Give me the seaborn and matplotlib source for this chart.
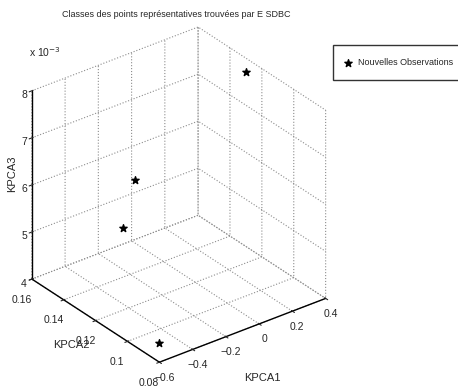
import numpy as np
import pandas as pd
import matplotlib
matplotlib.use("Agg")
import matplotlib.pyplot as plt
import seaborn as sns

# points (KPCA3 in raw units, shown as x 10^-3)
kpca1 = [0.34, -0.40, -0.40, -0.49]
kpca2 = [0.124, 0.116, 0.1235, 0.092]
kpca3 = [0.00792, 0.00681, 0.00561, 0.00400]

x_ticks = [-0.6, -0.4, -0.2, 0, 0.2, 0.4]
y_ticks = [0.08, 0.1, 0.12, 0.14, 0.16]
z_ticks = [4, 5, 6, 7, 8]

sns.set_style("white")
plt.rcParams["font.family"] = ["Liberation Sans", "DejaVu Sans"]
plt.rcParams["font.size"] = 7.5

df = pd.DataFrame({"KPCA1": kpca1, "KPCA2": kpca2, "KPCA3": np.array(kpca3) * 1e3})

fig = plt.figure(figsize=(4.58, 3.87), dpi=100)
ax = fig.add_axes([0.0, 0.02, 0.76, 0.93], projection="3d")
ax.set_proj_type("ortho")
ax.view_init(elev=30, azim=-127.5)
ax.set_box_aspect((4, 4, 4.15), zoom=1.025)

ax.scatter(df["KPCA1"], df["KPCA2"], df["KPCA3"], marker="*", s=30,
           color="black", depthshade=False, label="Nouvelles Observations")

ax.set_xlim(-0.6, 0.4)
ax.set_ylim(0.08, 0.16)
ax.set_zlim(4, 8)
ax.set_xticks(x_ticks)
ax.set_yticks(y_ticks)
ax.set_zticks(z_ticks)
ax.set_xticklabels(["\u22120.6", "\u22120.4", "\u22120.2", "0", "0.2", "0.4"])
ax.set_yticklabels(["0.08", "0.1", "0.12", "0.14", "0.16"])
ax.set_zticklabels([str(v) for v in z_ticks])

for axis in (ax.xaxis, ax.yaxis, ax.zaxis):
    axis.set_pane_color((1, 1, 1, 0))
    axis.pane.set_edgecolor("white")
    axis._axinfo["grid"].update({"color": "0.55", "linestyle": ":", "linewidth": 0.8})
    axis.line.set_color("black")
    axis.line.set_linewidth(1.0)

ax.tick_params(labelsize=7.5, pad=0)
ax.xaxis.set_tick_params(pad=-3)
ax.zaxis.set_tick_params(pad=-4.5)

fig.text(0.385, 0.962, "Classes des points représentatives trouvées par E SDBC",
         ha="center", va="center", fontsize=6.5)
fig.text(0.063, 0.853, r"x 10$^{-3}$", fontsize=7.5)
fig.text(0.572, 0.023, "KPCA1", ha="center", va="center", fontsize=8)
fig.text(0.155, 0.108, "KPCA2", ha="center", va="center", fontsize=8)
fig.text(0.027, 0.55, "KPCA3", ha="center", va="center", rotation=90, fontsize=8)

fig.legend(loc="upper left", bbox_to_anchor=(0.727, 0.884), fancybox=False,
           edgecolor="black", fontsize=6.5, borderpad=1.45, handlelength=0.35,
           handletextpad=1.0, borderaxespad=0)

fig.savefig("out.png", dpi=100)
